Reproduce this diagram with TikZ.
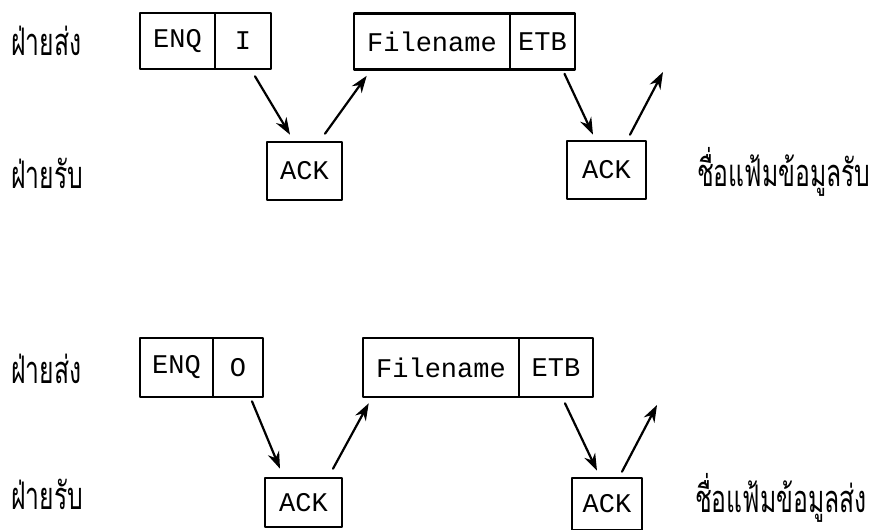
\documentclass[tikz,border=0pt]{standalone}
\usepackage{fontspec}
\setmonofont{Liberation Mono}
\newfontfamily\thaifont[Script=Thai,FakeStretch=0.65]{Loma}
\usetikzlibrary{arrows.meta}

\tikzset{
  cell/.style={draw, line width=2.6pt, inner sep=0pt, minimum height=56pt,
    font=\ttfamily\fontsize{27}{27}\selectfont},
  ackbox/.style={cell, minimum height=58pt},
  arr/.style={-{Stealth[length=17pt,width=12pt]}, line width=2.2pt},
  side/.style={anchor=base west, inner sep=0pt, font=\thaifont\fontsize{38}{38}\selectfont}
}

\begin{document}
\begin{tikzpicture}[x=1pt,y=-1pt,line join=round,line cap=round]
\useasboundingbox (0,0) rectangle (873,530);

% Upper exchange: blocks of the sender
\node[cell, minimum width=75pt] (enqA) at (177.5,41) {ENQ};
\node[cell, minimum width=56pt] (modeA) at (243,41) {I};
\node[cell, minimum width=156pt] (fileA) at (432,41.5) {Filename};
\node[cell, minimum width=65pt] (etbA) at (542.5,41.5) {ETB};

% Upper exchange: replies of the receiver
\node[ackbox, minimum width=75pt] (ackA) at (304.5,171) {ACK};
\node[ackbox, minimum width=79pt] (ackB) at (606.5,170) {ACK};
\coordinate (outA) at (663,72);

% Upper exchange: arrows
\draw[arr] ([xshift=12pt,yshift=-6pt]modeA.south) -- ([xshift=-14.5pt,yshift=6pt]ackA.north);
\draw[arr] ([xshift=20.5pt,yshift=7pt]ackA.north) -- ([xshift=14pt,yshift=-5pt]fileA.south west);
\draw[arr] ([xshift=22pt,yshift=-3pt]etbA.south) -- ([xshift=-13.5pt,yshift=5pt]ackB.north);
\draw[arr] ([xshift=23.5pt,yshift=5pt]ackB.north) -- (outA);

% Upper exchange: labels
\node[side] (sendA) at (11,55) {ฝ่ายส่ง};
\node[side] (recvA) at (11,188) {ฝ่ายรับ};
\node[side] (nameA) at (697,186) {ชื่อแฟ้มข้อมูลรับ};

% Lower exchange: blocks of the sender
\node[cell, minimum width=73pt, minimum height=59pt] (enqB) at (176.5,367.5) {ENQ};
\node[cell, minimum width=50pt, minimum height=59pt] (modeB) at (238,367.5) {O};
\node[cell, minimum width=156pt, minimum height=59pt] (fileB) at (441,367.5) {Filename};
\node[cell, minimum width=74pt, minimum height=59pt] (etbB) at (556,367.5) {ETB};

% Lower exchange: replies of the receiver
\node[ackbox, minimum width=77pt, minimum height=49pt] (ackC) at (303.5,502.5) {ACK};
\node[ackbox, minimum width=70pt, minimum height=52pt] (ackD) at (607,504) {ACK};
\coordinate (outB) at (657,405);

% Lower exchange: arrows
\draw[arr] ([xshift=14pt,yshift=-3pt]modeB.south) -- ([xshift=-23.5pt,yshift=8pt]ackC.north);
\draw[arr] ([xshift=29.5pt,yshift=8pt]ackC.north) -- ([xshift=7pt,yshift=-5pt]fileB.south west);
\draw[arr] ([xshift=9pt,yshift=-5pt]etbB.south) -- ([xshift=-10pt,yshift=6pt]ackD.north);
\draw[arr] ([xshift=15pt,yshift=5pt]ackD.north) -- (outB);

% Lower exchange: labels
\node[side] (sendB) at (11,383) {ฝ่ายส่ง};
\node[side] (recvB) at (11,509) {ฝ่ายรับ};
\node[side] (nameB) at (695,512) {ชื่อแฟ้มข้อมูลส่ง};

\end{tikzpicture}
\end{document}
